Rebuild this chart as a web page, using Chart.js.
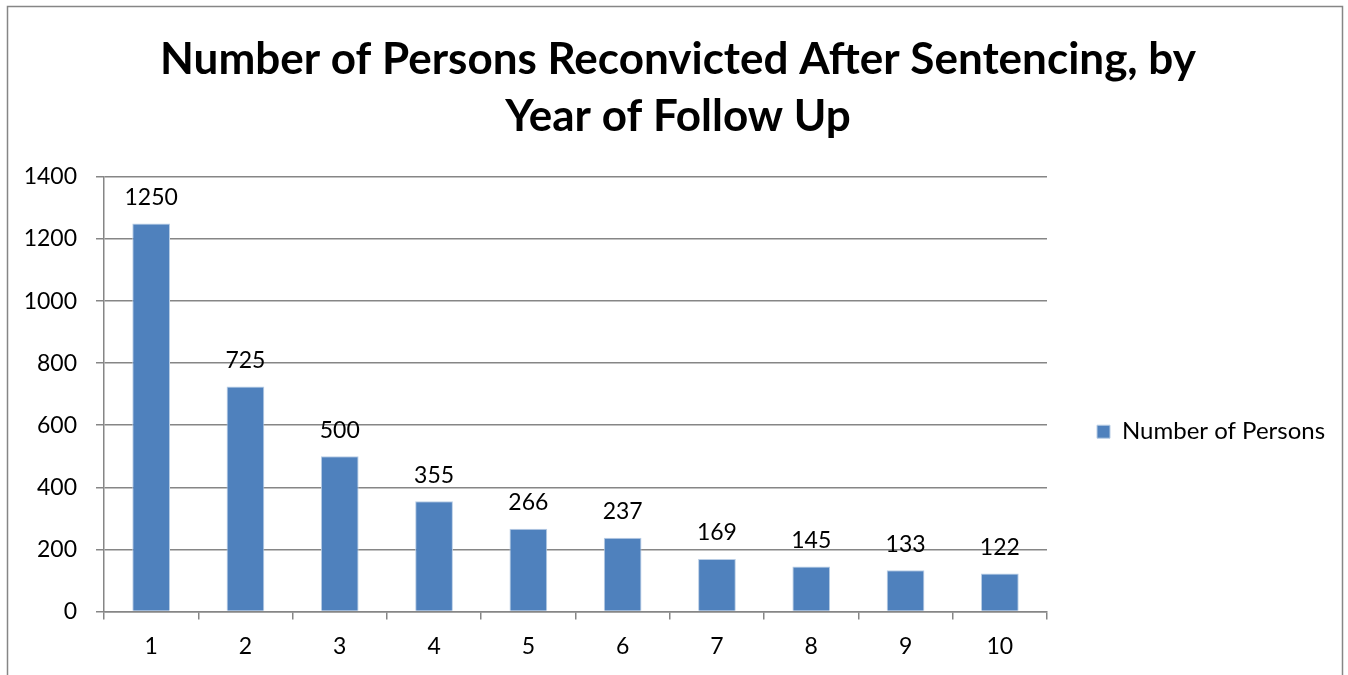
<!DOCTYPE html>
<html>
<head>
<meta charset="utf-8">
<script src="https://cdn.jsdelivr.net/npm/chart.js@4"></script>
<style>
html,body{margin:0;padding:0;background:#fff;}
#wrap{width:1348px;height:675px;position:relative;}
</style>
</head>
<body>
<div id="wrap"><canvas id="c" width="1348" height="675"></canvas></div>
<script>
const categories = ['1','2','3','4','5','6','7','8','9','10'];
const seriesName = 'Number of Persons';
const values = [1250, 725, 500, 355, 266, 237, 169, 145, 133, 122];
const titleLines = ['Number of Persons Reconvicted After Sentencing, by', 'Year of Follow Up'];
const yTicks = [0, 200, 400, 600, 800, 1000, 1200, 1400];

const FONT = 'Lato, Carlito, Calibri, sans-serif';

const frame = {
  id: 'frame',
  beforeDraw(chart) {
    const ctx = chart.ctx;
    ctx.save();
    ctx.fillStyle = '#fff';
    ctx.fillRect(0, 0, chart.width, chart.height);
    ctx.strokeStyle = '#868686';
    ctx.lineWidth = 1.5;
    ctx.strokeRect(7.5, 6.5, 1335, 720);
    ctx.restore();
  }
};

const legendFix = {
  id: 'legendFix',
  beforeLayout(chart) {
    const lg = chart.legend;
    if (lg && !lg._patched) {
      const orig = lg.fit.bind(lg);
      lg.fit = function () { orig(); this.width = 1348 - 1047; };
      lg._patched = true;
    }
  },
  afterLayout(chart) {
    const lg = chart.legend;
    if (lg) { lg.top += 37.5; lg.bottom += 37.5; }
  }
};

const dataLabels = {
  id: 'dataLabels',
  afterDatasetsDraw(chart) {
    const ctx = chart.ctx;
    const meta = chart.getDatasetMeta(0);
    ctx.save();
    ctx.font = '23px ' + FONT;
    ctx.fillStyle = '#000';
    ctx.textAlign = 'center';
    ctx.textBaseline = 'middle';
    meta.data.forEach((bar, i) => {
      ctx.fillText(String(chart.data.datasets[0].data[i]), bar.x, bar.y - 26);
    });
    ctx.restore();
  }
};

new Chart(document.getElementById('c'), {
  type: 'bar',
  data: {
    labels: categories,
    datasets: [{
      label: seriesName,
      data: values,
      backgroundColor: '#4F81BD',
      borderColor: '#B9CDE5',
      borderWidth: 1,
      barPercentage: 0.4,
      categoryPercentage: 1.0
    }]
  },
  options: {
    responsive: false,
    animation: false,
    devicePixelRatio: 1,
    layout: { padding: { top: 7, left: 8, right: 0, bottom: 2 } },
    plugins: {
      title: {
        display: true,
        text: titleLines,
        color: '#000',
        font: { family: FONT, size: 44, weight: 'bold', lineHeight: 57 / 44 },
        padding: { top: 24.5, bottom: 31.5 }
      },
      legend: {
        display: true,
        position: 'right',
        fullSize: false,
        labels: {
          boxWidth: 13,
          boxHeight: 13,
          padding: 50,
          color: '#000',
          font: { family: FONT, size: 24 }
        }
      },
      tooltip: { enabled: false }
    },
    scales: {
      x: {
        offset: true,
        grid: { display: true, drawOnChartArea: false, drawTicks: true, tickLength: 8, offset: true, color: '#868686', lineWidth: 1.5 },
        border: { display: true, color: '#868686', width: 1.5 },
        ticks: { color: '#000', font: { family: FONT, size: 23 }, padding: 13, maxRotation: 0 }
      },
      y: {
        min: 0,
        max: 1400,
        afterBuildTicks(scale) { scale.ticks = yTicks.map(v => ({ value: v })); },
        afterFit(scale) { scale.width = 96; },
        grid: { color: '#868686', lineWidth: 1.5, tickLength: 8, drawTicks: true },
        border: { display: true, color: '#868686', width: 1.5 },
        ticks: { color: '#000', font: { family: FONT, size: 23 }, padding: 19, callback: (v) => String(v) }
      }
    }
  },
  plugins: [frame, legendFix, dataLabels]
});
</script>
</body>
</html>
